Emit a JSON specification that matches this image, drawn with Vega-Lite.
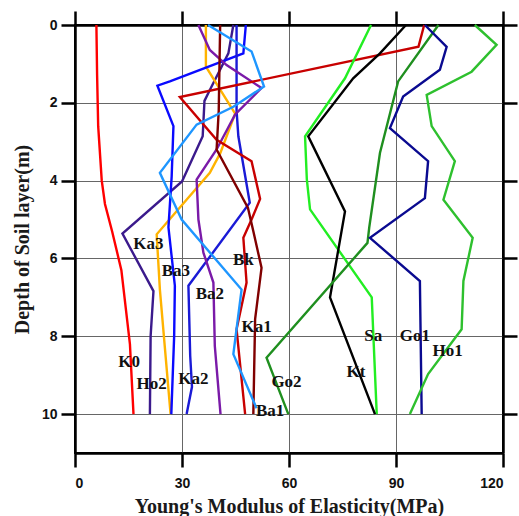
{
  "$schema": "https://vega.github.io/schema/vega-lite/v6.json",
  "width": 428,
  "height": 428,
  "autosize": "none",
  "padding": {"left": 75, "top": 25, "right": 16, "bottom": 63},
  "background": "white",
  "config": {
    "view": {"stroke": "black", "strokeWidth": 2},
    "axis": {
      "domainColor": "black",
      "domainWidth": 2.5,
      "tickColor": "black",
      "tickWidth": 2.5,
      "gridColor": "#666666",
      "gridWidth": 1,
      "labelFont": "Liberation Sans",
      "labelFontSize": 14,
      "labelFontWeight": "bold",
      "labelColor": "#111111",
      "titleFont": "Liberation Serif",
      "titleFontSize": 20,
      "titleFontWeight": "bold",
      "titleColor": "#1a1a1a"
    }
  },
  "datasets": {
    "lines": [
      {"s": "K0", "i": 0, "x": 6, "d": 0}, {"s": "K0", "i": 1, "x": 6.2, "d": 1.3}, {"s": "K0", "i": 2, "x": 6.5, "d": 2.6},
      {"s": "K0", "i": 3, "x": 7.5, "d": 4}, {"s": "K0", "i": 4, "x": 8.4, "d": 4.6}, {"s": "K0", "i": 5, "x": 10.4, "d": 5.3},
      {"s": "K0", "i": 6, "x": 13, "d": 6.3}, {"s": "K0", "i": 7, "x": 15.4, "d": 8.2}, {"s": "K0", "i": 8, "x": 16.4, "d": 10},

      {"s": "Ho2", "i": 0, "x": 44.4, "d": 0}, {"s": "Ho2", "i": 1, "x": 43, "d": 0.73}, {"s": "Ho2", "i": 2, "x": 37.8, "d": 1.67},
      {"s": "Ho2", "i": 3, "x": 36.3, "d": 1.95}, {"s": "Ho2", "i": 4, "x": 35.8, "d": 2.86}, {"s": "Ho2", "i": 5, "x": 30, "d": 4.02},
      {"s": "Ho2", "i": 6, "x": 13.3, "d": 5.36}, {"s": "Ho2", "i": 7, "x": 22, "d": 6.84}, {"s": "Ho2", "i": 8, "x": 21.2, "d": 8},
      {"s": "Ho2", "i": 9, "x": 21, "d": 10},

      {"s": "Ka3", "i": 0, "x": 36.7, "d": 0}, {"s": "Ka3", "i": 1, "x": 36.7, "d": 1.07}, {"s": "Ka3", "i": 2, "x": 44.9, "d": 2.28},
      {"s": "Ka3", "i": 3, "x": 40.7, "d": 3.3}, {"s": "Ka3", "i": 4, "x": 37.8, "d": 3.8}, {"s": "Ka3", "i": 5, "x": 22.9, "d": 5.38},
      {"s": "Ka3", "i": 6, "x": 23.8, "d": 6.8}, {"s": "Ka3", "i": 7, "x": 26.8, "d": 10},

      {"s": "Ba3", "i": 0, "x": 47.9, "d": 0}, {"s": "Ba3", "i": 1, "x": 47.2, "d": 0.73}, {"s": "Ba3", "i": 2, "x": 26.6, "d": 1.45},
      {"s": "Ba3", "i": 3, "x": 23.1, "d": 1.56}, {"s": "Ba3", "i": 4, "x": 27.6, "d": 2.6}, {"s": "Ba3", "i": 5, "x": 27.1, "d": 3.9},
      {"s": "Ba3", "i": 6, "x": 26.2, "d": 5.2}, {"s": "Ba3", "i": 7, "x": 28, "d": 6.7}, {"s": "Ba3", "i": 8, "x": 27.8, "d": 8},
      {"s": "Ba3", "i": 9, "x": 27, "d": 10},

      {"s": "Ka2", "i": 0, "x": 45.3, "d": 0}, {"s": "Ka2", "i": 1, "x": 45.3, "d": 2.2}, {"s": "Ka2", "i": 2, "x": 45.8, "d": 2.86},
      {"s": "Ka2", "i": 3, "x": 49, "d": 4.57}, {"s": "Ka2", "i": 4, "x": 31.8, "d": 6.7}, {"s": "Ka2", "i": 5, "x": 32.3, "d": 8.5},
      {"s": "Ka2", "i": 6, "x": 32.8, "d": 9.3}, {"s": "Ka2", "i": 7, "x": 31.3, "d": 10},

      {"s": "Ba2", "i": 0, "x": 34.6, "d": 0}, {"s": "Ba2", "i": 1, "x": 37.8, "d": 0.64}, {"s": "Ba2", "i": 2, "x": 42.5, "d": 1.03},
      {"s": "Ba2", "i": 3, "x": 52.3, "d": 1.62}, {"s": "Ba2", "i": 4, "x": 44.9, "d": 2.3}, {"s": "Ba2", "i": 5, "x": 39.7, "d": 3.2},
      {"s": "Ba2", "i": 6, "x": 34.1, "d": 3.97}, {"s": "Ba2", "i": 7, "x": 34.6, "d": 5}, {"s": "Ba2", "i": 8, "x": 36, "d": 5.85},
      {"s": "Ba2", "i": 9, "x": 38.8, "d": 6.62}, {"s": "Ba2", "i": 10, "x": 39.2, "d": 8.25}, {"s": "Ba2", "i": 11, "x": 40.8, "d": 10},

      {"s": "Ka1", "i": 0, "x": 97.9, "d": 0}, {"s": "Ka1", "i": 1, "x": 96.3, "d": 0.56}, {"s": "Ka1", "i": 2, "x": 29.4, "d": 1.85},
      {"s": "Ka1", "i": 3, "x": 39.7, "d": 2.95}, {"s": "Ka1", "i": 4, "x": 49.5, "d": 3.5}, {"s": "Ka1", "i": 5, "x": 51.9, "d": 4.47},
      {"s": "Ka1", "i": 6, "x": 49.5, "d": 5}, {"s": "Ka1", "i": 7, "x": 47.2, "d": 5.47}, {"s": "Ka1", "i": 8, "x": 48.1, "d": 6.62},
      {"s": "Ka1", "i": 9, "x": 45.3, "d": 7.82}, {"s": "Ka1", "i": 10, "x": 47.7, "d": 10},

      {"s": "Bk", "i": 0, "x": 40.7, "d": 0}, {"s": "Bk", "i": 1, "x": 40.3, "d": 2.2}, {"s": "Bk", "i": 2, "x": 39.7, "d": 3.2},
      {"s": "Bk", "i": 3, "x": 48.5, "d": 4.7}, {"s": "Bk", "i": 4, "x": 50, "d": 5.3}, {"s": "Bk", "i": 5, "x": 52.3, "d": 6.24},
      {"s": "Bk", "i": 6, "x": 50.5, "d": 7.56}, {"s": "Bk", "i": 7, "x": 50, "d": 10},

      {"s": "Ba1", "i": 0, "x": 37.3, "d": 0}, {"s": "Ba1", "i": 1, "x": 49.5, "d": 0.68}, {"s": "Ba1", "i": 2, "x": 53, "d": 1.58},
      {"s": "Ba1", "i": 3, "x": 44.4, "d": 2.1}, {"s": "Ba1", "i": 4, "x": 34.1, "d": 2.56}, {"s": "Ba1", "i": 5, "x": 23.8, "d": 3.8},
      {"s": "Ba1", "i": 6, "x": 29.9, "d": 5}, {"s": "Ba1", "i": 7, "x": 46.7, "d": 6.8}, {"s": "Ba1", "i": 8, "x": 44.4, "d": 8.46},
      {"s": "Ba1", "i": 9, "x": 50.9, "d": 9.85},

      {"s": "Sa", "i": 0, "x": 83, "d": 0}, {"s": "Sa", "i": 1, "x": 75.7, "d": 1.37}, {"s": "Sa", "i": 2, "x": 64.5, "d": 2.86},
      {"s": "Sa", "i": 3, "x": 65, "d": 3.97}, {"s": "Sa", "i": 4, "x": 65.9, "d": 4.74}, {"s": "Sa", "i": 5, "x": 83.2, "d": 7},
      {"s": "Sa", "i": 6, "x": 84.6, "d": 10},

      {"s": "Kt", "i": 0, "x": 92.8, "d": 0}, {"s": "Kt", "i": 1, "x": 85.5, "d": 0.73}, {"s": "Kt", "i": 2, "x": 78, "d": 1.37},
      {"s": "Kt", "i": 3, "x": 65.4, "d": 2.86}, {"s": "Kt", "i": 4, "x": 75.7, "d": 4.79}, {"s": "Kt", "i": 5, "x": 71.5, "d": 7},
      {"s": "Kt", "i": 6, "x": 84.1, "d": 10},

      {"s": "Go2", "i": 0, "x": 101.9, "d": 0}, {"s": "Go2", "i": 1, "x": 90.6, "d": 1.45}, {"s": "Go2", "i": 2, "x": 85.5, "d": 3.29},
      {"s": "Go2", "i": 3, "x": 82.5, "d": 5.2}, {"s": "Go2", "i": 4, "x": 82, "d": 5.6}, {"s": "Go2", "i": 5, "x": 53.7, "d": 8.55},
      {"s": "Go2", "i": 6, "x": 59.8, "d": 10},

      {"s": "Go1", "i": 0, "x": 98.1, "d": 0}, {"s": "Go1", "i": 1, "x": 104.2, "d": 0.56}, {"s": "Go1", "i": 2, "x": 102.3, "d": 1.15},
      {"s": "Go1", "i": 3, "x": 92, "d": 1.84}, {"s": "Go1", "i": 4, "x": 88.3, "d": 2.65}, {"s": "Go1", "i": 5, "x": 99, "d": 3.5},
      {"s": "Go1", "i": 6, "x": 98.1, "d": 4.45}, {"s": "Go1", "i": 7, "x": 82.7, "d": 5.47}, {"s": "Go1", "i": 8, "x": 96.7, "d": 6.58},
      {"s": "Go1", "i": 9, "x": 97.2, "d": 10},

      {"s": "Ho1", "i": 0, "x": 112.1, "d": 0}, {"s": "Ho1", "i": 1, "x": 118.2, "d": 0.51}, {"s": "Ho1", "i": 2, "x": 111.2, "d": 1.2},
      {"s": "Ho1", "i": 3, "x": 98.6, "d": 1.8}, {"s": "Ho1", "i": 4, "x": 100, "d": 2.6}, {"s": "Ho1", "i": 5, "x": 106.5, "d": 3.5},
      {"s": "Ho1", "i": 6, "x": 103.3, "d": 4.49}, {"s": "Ho1", "i": 7, "x": 111.5, "d": 5.47}, {"s": "Ho1", "i": 8, "x": 108.9, "d": 6.58},
      {"s": "Ho1", "i": 9, "x": 108.4, "d": 7.82}, {"s": "Ho1", "i": 10, "x": 99, "d": 8.97}, {"s": "Ho1", "i": 11, "x": 93.9, "d": 10}
    ],
    "labels": [
      {"t": "Ka3", "x": 20.6, "d": 5.64},
      {"t": "Ba3", "x": 28.3, "d": 6.33},
      {"t": "Bk", "x": 47.2, "d": 6.03},
      {"t": "Ba2", "x": 37.8, "d": 6.92},
      {"t": "Ka1", "x": 50.9, "d": 7.75},
      {"t": "K0", "x": 15.2, "d": 8.66},
      {"t": "Ho2", "x": 21.5, "d": 9.23},
      {"t": "Ka2", "x": 33.2, "d": 9.1},
      {"t": "Ba1", "x": 54.7, "d": 9.91},
      {"t": "Go2", "x": 59.3, "d": 9.17},
      {"t": "Sa", "x": 83.6, "d": 8.0},
      {"t": "Go1", "x": 95.3, "d": 7.99},
      {"t": "Ho1", "x": 104.5, "d": 8.38},
      {"t": "Kt", "x": 78.8, "d": 8.91}
    ]
  },
  "layer": [
    {
      "data": {"name": "lines"},
      "mark": {"type": "line", "strokeWidth": 2.4},
      "encoding": {
        "x": {
          "field": "x",
          "type": "quantitative",
          "scale": {"domain": [0, 120], "nice": false},
          "axis": {
            "orient": "bottom",
            "title": "Young's Modulus of Elasticity(MPa)",
            "titlePadding": 6,
            "values": [0, 30, 60, 90, 120],
            "labelPadding": 9,
            "tickSize": 14,
            "grid": true
          }
        },
        "y": {
          "field": "d",
          "type": "quantitative",
          "scale": {"domain": [0, 11], "reverse": true, "nice": false},
          "axis": {
            "orient": "left",
            "title": "Depth of Soil layer(m)",
            "titlePadding": 9,
            "values": [0, 2, 4, 6, 8, 10],
            "labelPadding": 4,
            "tickSize": 14,
            "grid": true
          }
        },
        "order": {"field": "i", "type": "quantitative"},
        "color": {
          "field": "s",
          "type": "nominal",
          "legend": null,
          "scale": {
            "domain": ["K0", "Ho2", "Ka3", "Ba3", "Ka2", "Ba2", "Ka1", "Bk", "Ba1", "Sa", "Kt", "Go2", "Go1", "Ho1"],
            "range": ["#ff0000", "#3b1a8c", "#ffb300", "#0a0aff", "#1a1ad6", "#7a1aa8", "#c80000", "#800000", "#1e96ff", "#22ee22", "#000000", "#1f8f1f", "#0a0a90", "#2ec02e"]
          }
        }
      }
    },
    {
      "data": {"name": "labels"},
      "mark": {"type": "text", "font": "Liberation Serif", "fontSize": 17, "fontWeight": "bold", "color": "#111111", "baseline": "middle", "align": "center"},
      "encoding": {
        "x": {
          "field": "x",
          "type": "quantitative",
          "axis": {"orient": "top", "title": null, "values": [0, 30, 60, 90, 120], "labels": false, "grid": false, "tickSize": 14}
        },
        "y": {
          "field": "d",
          "type": "quantitative",
          "axis": {"orient": "right", "title": null, "values": [0, 2, 4, 6, 8, 10], "labels": false, "grid": false, "tickSize": 14}
        },
        "text": {"field": "t", "type": "nominal"}
      }
    }
  ],
  "resolve": {"axis": {"x": "independent", "y": "independent"}}
}
